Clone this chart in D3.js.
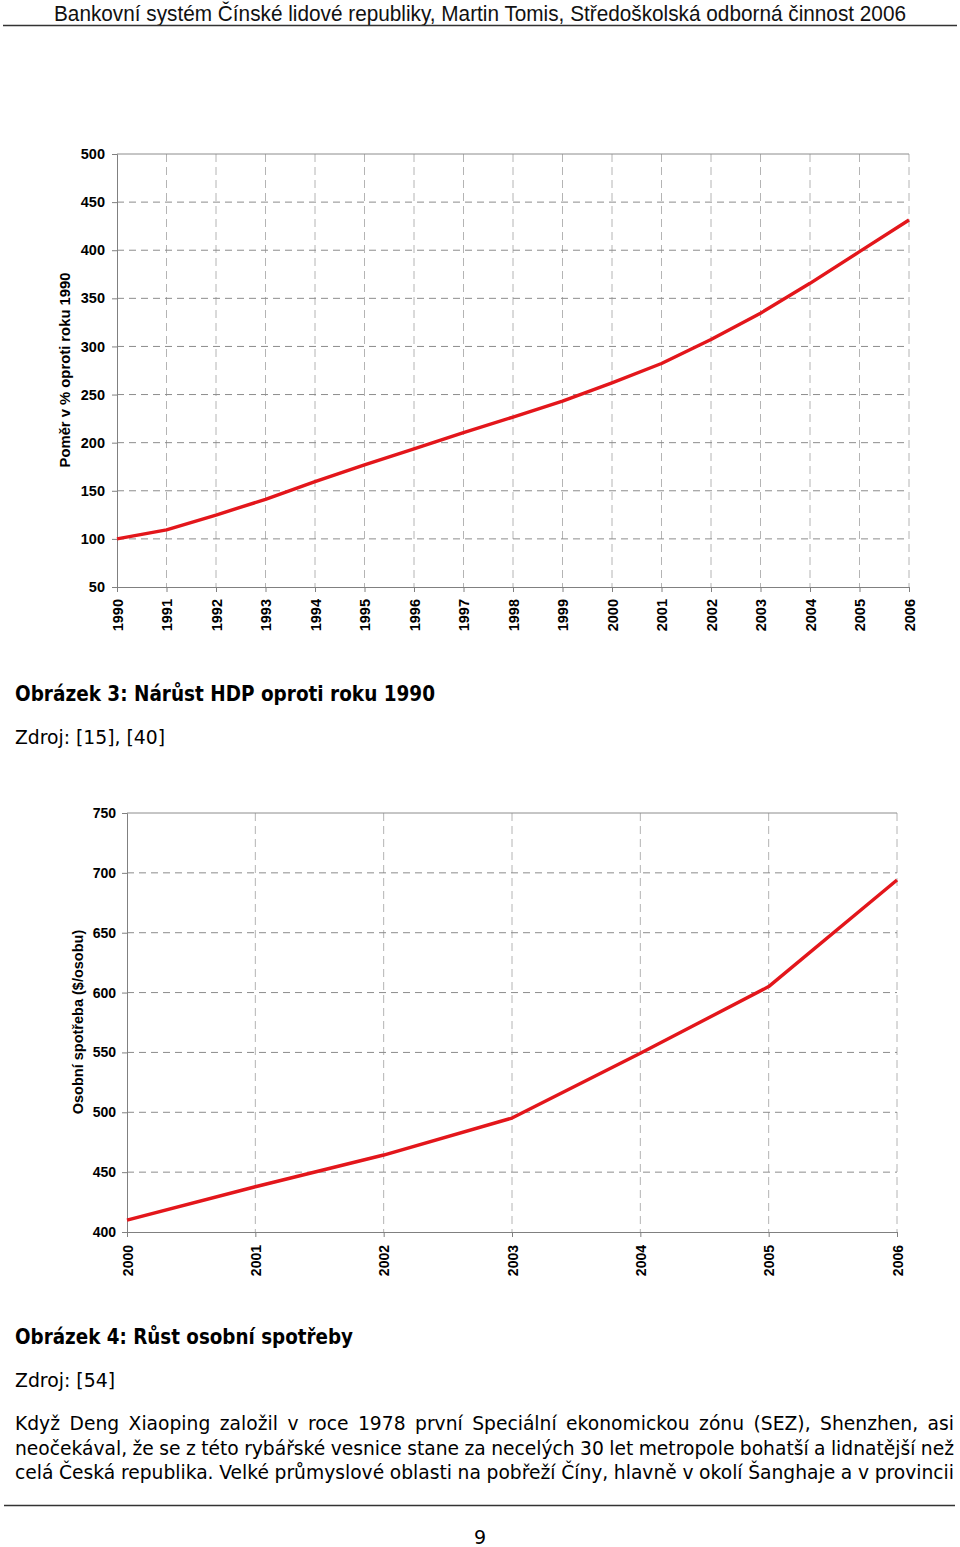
<!DOCTYPE html>
<html>
<head>
<meta charset="utf-8">
<script src="https://cdn.jsdelivr.net/npm/d3@7"></script>
<style>
  html, body { margin: 0; padding: 0; background: #fff; }
  svg { display: block; }
</style>
</head>
<body>
<svg id="page" width="960" height="1547"></svg>
<script>
// ---------- DATA ----------
const headerText = "Bankovní systém Čínské lidové republiky, Martin Tomis, Středoškolská odborná činnost 2006";

// Chart 1: GDP growth relative to 1990 (%)
const years1 = ["1990","1991","1992","1993","1994","1995","1996","1997","1998","1999","2000","2001","2002","2003","2004","2005","2006"];
const hdpValues = [100, 109.4, 124.8, 141.1, 159.6, 176.9, 193.5, 210.4, 226.6, 243.2, 262.2, 282.3, 307.3, 334.5, 365.6, 398.5, 431.4];
const yTicks1 = [50, 100, 150, 200, 250, 300, 350, 400, 450, 500];
const yTitle1 = "Poměr v % oproti roku 1990";
const caption1 = "Obrázek 3: Nárůst HDP oproti roku 1990";
const source1 = "Zdroj: [15], [40]";

// Chart 2: personal consumption ($/person)
const years2 = ["2000","2001","2002","2003","2004","2005","2006"];
const consumptionValues = [410, 437.8, 464.3, 495.2, 549.3, 605, 694];
const yTicks2 = [400, 450, 500, 550, 600, 650, 700, 750];
const yTitle2 = "Osobní spotřeba ($/osobu)";
const caption2 = "Obrázek 4: Růst osobní spotřeby";
const source2 = "Zdroj: [54]";

const bodyLines = [
  "Když Deng Xiaoping založil v roce 1978 první Speciální ekonomickou zónu (SEZ), Shenzhen, asi",
  "neočekával, že se z této rybářské vesnice stane za necelých 30 let metropole bohatší a lidnatější než",
  "celá Česká republika. Velké průmyslové oblasti na pobřeží Číny, hlavně v okolí Šanghaje a v provincii"
];
const pageNumber = "9";

// ---------- DRAWING ----------
const svg = d3.select("#page");
svg.append("rect").attr("width", 960).attr("height", 1547).attr("fill", "#fff");

const tahoma = "'DejaVu Sans', Verdana, sans-serif";
const arial = "'Liberation Sans', Arial, Helvetica, sans-serif";
const RED = "#e3161b";

// Header
svg.append("text")
  .attr("x", 54).attr("y", 21)
  .attr("font-family", "'Liberation Sans Narrow', 'Liberation Sans', Arial, sans-serif")
  .attr("font-size", 21.5)
  .attr("fill", "#111")
  .attr("textLength", 852).attr("lengthAdjust", "spacingAndGlyphs")
  .text(headerText);
svg.append("line").attr("x1", 3).attr("x2", 957).attr("y1", 25.5).attr("y2", 25.5)
  .attr("stroke", "#333").attr("stroke-width", 1.5);

function drawChart(opt) {
  const g = svg.append("g");
  const x = d3.scalePoint().domain(opt.years).range([opt.left, opt.right]);
  const y = d3.scaleLinear().domain([opt.yTicks[0], opt.yTicks[opt.yTicks.length - 1]]).range([opt.bottom, opt.top]);

  // vertical gridlines (dashed, light)
  g.append("g").selectAll("line").data(opt.years.slice(1))
    .join("line")
    .attr("x1", d => x(d)).attr("x2", d => x(d))
    .attr("y1", opt.top).attr("y2", opt.bottom)
    .attr("stroke", "#b4b4b4").attr("stroke-width", 1)
    .attr("stroke-dasharray", "8,5");

  // horizontal gridlines (dashed, darker)
  g.append("g").selectAll("line").data(opt.yTicks.slice(1, -1))
    .join("line")
    .attr("x1", opt.left).attr("x2", opt.right)
    .attr("y1", d => y(d)).attr("y2", d => y(d))
    .attr("stroke", "#8c8c8c").attr("stroke-width", 1)
    .attr("stroke-dasharray", "7,5");

  // top border (solid)
  g.append("line")
    .attr("x1", opt.left).attr("x2", opt.right)
    .attr("y1", y(opt.yTicks[opt.yTicks.length - 1])).attr("y2", y(opt.yTicks[opt.yTicks.length - 1]))
    .attr("stroke", "#8c8c8c").attr("stroke-width", 1);

  // axes
  const yAxis = d3.axisLeft(y).tickValues(opt.yTicks).tickSize(5).tickPadding(opt.tickPad);
  const ya = g.append("g").attr("transform", `translate(${opt.left},0)`).call(yAxis);
  ya.select(".domain").attr("stroke", "#808080");
  ya.selectAll(".tick line").attr("stroke", "#808080");
  ya.selectAll(".tick text")
    .attr("font-family", arial).attr("font-weight", "bold")
    .attr("font-size", opt.fontSize).attr("fill", "#000");

  const xAxis = d3.axisBottom(x).tickSize(5).tickSizeOuter(0);
  const xa = g.append("g").attr("transform", `translate(0,${opt.bottom})`).call(xAxis);
  xa.select(".domain").attr("stroke", "#808080");
  xa.selectAll(".tick line").attr("stroke", "#808080");
  xa.selectAll(".tick text")
    .attr("font-family", arial).attr("font-weight", "bold")
    .attr("font-size", opt.fontSize).attr("fill", "#000")
    .attr("transform", "rotate(-90)")
    .attr("x", -opt.xLabelGap).attr("y", 0).attr("dy", "0.36em")
    .attr("text-anchor", "end");

  // line
  const line = d3.line()
    .x((d, i) => x(opt.years[i]))
    .y(d => y(d))
    .curve(d3.curveLinear);
  g.append("path").datum(opt.values)
    .attr("d", line)
    .attr("fill", "none")
    .attr("stroke", RED)
    .attr("stroke-width", 3.4)
    .attr("stroke-linejoin", "round");

  // y title
  g.append("text")
    .attr("transform", `translate(${opt.titleX},${opt.titleY}) rotate(-90)`)
    .attr("text-anchor", "middle")
    .attr("font-family", arial).attr("font-weight", "bold")
    .attr("font-size", opt.titleSize).attr("fill", "#000")
    .text(opt.title);
}

drawChart({
  years: years1, values: hdpValues, yTicks: yTicks1,
  left: 117, right: 909, top: 154, bottom: 587,
  tickPad: 7, fontSize: 14.5, xLabelGap: 12,
  title: yTitle1, titleX: 70, titleY: 370, titleSize: 14.8
});

drawChart({
  years: years2, values: consumptionValues, yTicks: yTicks2,
  left: 127, right: 897, top: 813, bottom: 1232,
  tickPad: 6, fontSize: 14, xLabelGap: 13,
  title: yTitle2, titleX: 83, titleY: 1022, titleSize: 14.5
});

// Captions
function caption(txt, y, bold, len, size) {
  svg.append("text")
    .attr("x", 15).attr("y", y)
    .attr("font-family", tahoma)
    .attr("font-weight", bold ? "bold" : "normal")
    .attr("font-size", size).attr("fill", "#000")
    .attr("textLength", len).attr("lengthAdjust", "spacingAndGlyphs")
    .text(txt);
}
caption(caption1, 701, true, 420, 21);
caption(source1, 744, false, 150, 20);
caption(caption2, 1344, true, 338, 21);
caption(source2, 1387, false, 100, 20);

// Justified body text (glyphs condensed to mimic the narrow face, then justified)
const bodyLeft = 15, bodyRight = 954;
const baselines = [1430, 1455, 1479];
const bodySize = 20;
const minGap = bodySize * 0.27;
const tmp = svg.append("text").attr("font-family", tahoma).attr("font-size", bodySize).attr("visibility", "hidden");
const lineWords = bodyLines.map(ln => ln.split(" "));
const lineWidths = lineWords.map(ws => ws.map(w => { tmp.text(w); return tmp.node().getComputedTextLength(); }));
tmp.remove();
const factor = d3.min(lineWidths, (ws) => (bodyRight - bodyLeft - (ws.length - 1) * minGap) / d3.sum(ws));
lineWords.forEach((words, li) => {
  const widths = lineWidths[li].map(w => w * Math.min(1, factor));
  const gap = (bodyRight - bodyLeft - d3.sum(widths)) / (words.length - 1);
  let cx = bodyLeft;
  const tg = svg.append("g");
  words.forEach((w, i) => {
    tg.append("text")
      .attr("x", cx).attr("y", baselines[li])
      .attr("font-family", tahoma).attr("font-size", bodySize).attr("fill", "#000")
      .attr("textLength", widths[i]).attr("lengthAdjust", "spacingAndGlyphs")
      .text(w);
    cx += widths[i] + gap;
  });
});

// Footer
svg.append("line").attr("x1", 4).attr("x2", 955).attr("y1", 1505.5).attr("y2", 1505.5)
  .attr("stroke", "#333").attr("stroke-width", 1.5);
svg.append("text")
  .attr("x", 480).attr("y", 1544)
  .attr("text-anchor", "middle")
  .attr("font-family", tahoma).attr("font-size", 19).attr("fill", "#000")
  .text(pageNumber);
</script>
</body>
</html>
